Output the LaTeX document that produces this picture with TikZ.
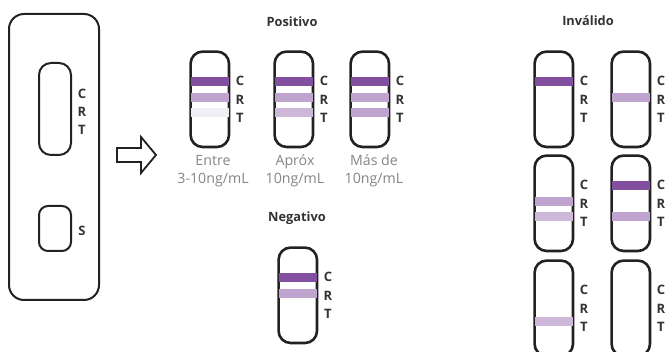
\documentclass[tikz,border=0pt]{standalone}
\usepackage{fontspec}
\setmainfont{Open Sans}
\usetikzlibrary{calc}
\definecolor{cdark}{HTML}{8350A0}
\definecolor{cmid}{HTML}{C0A4D0}
\definecolor{clight}{HTML}{CDB8DA}
\definecolor{cpale}{HTML}{F2EEF5}
\definecolor{ink}{HTML}{222222}
\definecolor{txt}{HTML}{333333}
\definecolor{lbl}{HTML}{858585}
\tikzset{
  stripbox/.style={draw=ink, line width=2.6pt, rounded corners=12pt, minimum width=38.4pt, minimum height=95.4pt, inner sep=0pt, anchor=north west},
  crt/.style={font=\fontsize{13}{16}\selectfont\bfseries, text=txt, inner sep=0pt},
  ttl/.style={font=\fontsize{12.8}{16}\selectfont\bfseries, text=txt, inner sep=0pt},
  lab/.style={font=\fontsize{14.2}{18}\selectfont, text=lbl, inner sep=0pt, align=center},
  casebox/.style={draw=ink, line width=2pt},
}
% #1 name, #2 left, #3 top
\newcommand\teststrip[3]{%
  \node[stripbox] (#1) at (#2+1.3,#3+1.3) {};
  \node[crt] (#1C) at (#2+52,#3+32) {C};
  \node[crt] (#1R) at (#2+52,#3+51) {R};
  \node[crt] (#1T) at (#2+52,#3+69) {T};
}
% #1 left, #2 top, #3 offset, #4 colour
\newcommand\band[4]{%
  \fill[#4] (#1+3,#2+#3) rectangle (#1+41,#2+#3+9);
}
\begin{document}
\begin{tikzpicture}[x=1pt,y=-1pt]
\useasboundingbox (0,0) rectangle (665,352);
% cassette
\node[casebox, rounded corners=15pt, minimum width=90pt, minimum height=286pt, inner sep=0pt, anchor=north west] (cas) at (8,13) {};
\node[casebox, rounded corners=12pt, minimum width=32pt, minimum height=92pt, inner sep=0pt, anchor=north west] (win) at (38,62) {};
\node[casebox, rounded corners=9pt, minimum width=32pt, minimum height=45pt, inner sep=0pt, anchor=north west] (swin) at (38,205) {};
\node[crt] (casC) at (82,94) {C};
\node[crt] (casR) at (82,112) {R};
\node[crt] (casT) at (82,130) {T};
\node[crt] (casS) at (82,231) {S};
% arrow
\draw[draw=ink, line width=1.8pt, line join=miter] (117,148) -- (141,148) -- (141,137) -- (156,155) -- (141,173) -- (141,162) -- (117,162) -- cycle;
% titles
\node[ttl] (tpos) at (292,22) {Positivo};
\node[ttl] (tneg) at (297,218) {Negativo};
\node[ttl] (tinv) at (588,21) {Inválido};
% positive strips
\teststrip{pa}{188}{49}
\band{188}{49}{28}{cdark}\band{188}{49}{44}{cmid}\band{188}{49}{59}{cpale}
\teststrip{pb}{272}{49}
\band{272}{49}{28}{cdark}\band{272}{49}{44}{cmid}\band{272}{49}{59}{clight}
\teststrip{pc}{348}{49}
\band{348}{49}{28}{cdark}\band{348}{49}{44}{cmid}\band{348}{49}{59}{cmid}
\node[lab] (la) at (213,171) {Entre\\3-10ng/mL};
\node[lab] (lb) at (295,171) {Apróx\\10ng/mL};
\node[lab] (lc) at (374,171) {Más de\\10ng/mL};
% negative
\teststrip{na}{276}{245}
\band{276}{245}{28}{cdark}\band{276}{245}{44}{cmid}
% invalid
\teststrip{ia}{532}{49}
\band{532}{49}{28}{cdark}
\teststrip{ib}{609}{49}
\band{609}{49}{44}{cmid}
\teststrip{ic}{532}{153}
\band{532}{153}{44}{cmid}\band{532}{153}{59}{clight}
\teststrip{id}{609}{153}
\band{609}{153}{28}{cdark}\band{609}{153}{59}{cmid}
\teststrip{ie}{532}{258}
\band{532}{258}{59}{clight}
\teststrip{if}{609}{258}
\end{tikzpicture}
\end{document}
